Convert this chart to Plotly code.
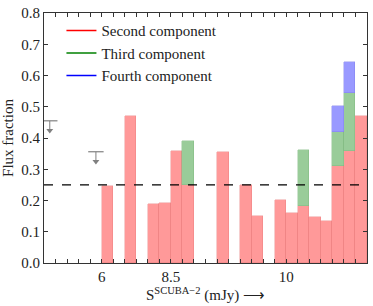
import plotly.graph_objects as go

# ---- data ----
n_bins = 28
bin_index = list(range(n_bins))
second = [None, None, None, None, None, 0.246, None, 0.471, None, 0.190, 0.192, 0.357, 0.250, None,
          None, 0.356, None, 0.250, 0.150, None, 0.203, 0.160, 0.184, 0.146, 0.136, 0.311, 0.357, 0.470]
third = [None] * 12 + [0.140] + [None] * 9 + [0.177, None, None, 0.108, 0.186, None]
fourth = [None] * 25 + [0.082, 0.099, None]

tick_pos = [5, 11, 21]
tick_labels = ["6", "8.5", "10"]

upper_limit_bins = [0, 4]
upper_limit_values = [0.455, 0.356]
threshold = 0.25

FONT = "Liberation Serif"
centers = [i + 0.5 for i in bin_index]

fig = go.Figure()
bar_styles = [
    ("Second component", second, "#ff9999", "rgba(230,120,120,0.6)", "#ff0000"),
    ("Third component", third, "#99cc99", "rgba(120,180,120,0.6)", "#008000"),
    ("Fourth component", fourth, "#9999ff", "rgba(120,120,230,0.6)", "#0000ff"),
]
for name, vals, fill, edge, _ in bar_styles:
    fig.add_trace(go.Bar(x=centers, y=vals, width=1.0, name=name, showlegend=False,
                         marker=dict(color=fill, line=dict(color=edge, width=0.6))))
for name, _, _, _, lc in bar_styles:
    fig.add_trace(go.Scatter(x=[None], y=[None], mode="lines", name=name,
                             line=dict(color=lc, width=1.5)))

# upper limits: cap, stem and arrow head
ul_x = [b + 0.5 for b in upper_limit_bins]
stem_x, stem_y = [], []
for x, v in zip(ul_x, upper_limit_values):
    stem_x += [x, x, None]
    stem_y += [v, v - 0.03, None]
grey = "#808080"
fig.add_trace(go.Scatter(x=stem_x, y=stem_y, mode="lines", line=dict(color=grey, width=1),
                         showlegend=False, hoverinfo="skip"))
fig.add_trace(go.Scatter(x=ul_x, y=upper_limit_values, mode="markers", showlegend=False,
                         marker=dict(symbol="line-ew", size=11, line=dict(color=grey, width=1.2))))
fig.add_trace(go.Scatter(x=ul_x, y=[v - 0.031 for v in upper_limit_values], mode="markers",
                         showlegend=False,
                         marker=dict(symbol="triangle-down", size=6, color=grey, line=dict(width=0))))

fig.add_hline(y=threshold, line=dict(color="black", width=1.3, dash="dash"))

all_ticks = list(range(n_bins + 1))
all_text = [tick_labels[tick_pos.index(t)] if t in tick_pos else "" for t in all_ticks]

fig.update_layout(
    width=373, height=306,
    margin=dict(l=44, r=6, t=13, b=43),
    paper_bgcolor="white", plot_bgcolor="white",
    barmode="stack", bargap=0,
    font=dict(family=FONT, size=15, color="#222"),
    legend=dict(x=0.054, y=0.995, xanchor="left", yanchor="top", bgcolor="rgba(0,0,0,0)",
                traceorder="normal",
                font=dict(family=FONT, size=15, color="#222"), itemwidth=30),
    xaxis=dict(range=[0, n_bins], tickvals=all_ticks, ticktext=all_text,
               ticks="inside", ticklen=4, tickcolor="#333", mirror="allticks",
               showline=True, linecolor="#333", linewidth=1, showgrid=False, zeroline=False,
               tickfont=dict(size=15),
               title=dict(text="S<sup>SCUBA−2</sup> (mJy) ⟶", standoff=0, font=dict(size=15))),
    yaxis=dict(range=[0, 0.8], dtick=0.1, tickformat=".1f",
               ticks="inside", ticklen=4, tickcolor="#333", mirror="allticks",
               showline=True, linecolor="#333", linewidth=1, showgrid=False, zeroline=False,
               tickfont=dict(size=15),
               title=dict(text="Flux fraction", standoff=4, font=dict(size=15))),
)

fig.write_html("out.html", config={"displayModeBar": False},
               post_script="document.body.style.margin='0';")
